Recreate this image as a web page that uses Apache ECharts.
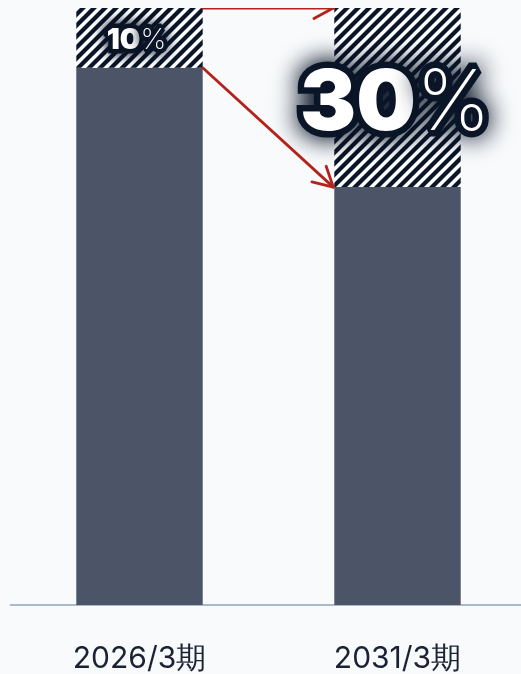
<!DOCTYPE html>
<html>
<head>
<meta charset="utf-8">
<style>
  html, body { margin: 0; padding: 0; background: #f8fafc; }
  #chart { width: 521px; height: 674px; }
</style>
<script src="https://cdn.jsdelivr.net/npm/echarts@6/dist/echarts.min.js"></script>
</head>
<body>
<div id="chart"></div>
<script>
const categories = ['2026/3期', '2031/3期']
const baseValues = [90, 70]
const shareValues = [10, 30]
const shareLabels = ['10', '30']
// arrows: [fromCategory, fromValue, toCategory, toValue]
const arrows = [
  [0, 100, 1, 100],
  [0, 90, 1, 70],
]

const BAR_RATIO = 0.49

// 斜線パターン
function makeHatch() {
  const S = 11, w = 6
  const c = document.createElement('canvas')
  c.width = S; c.height = S
  const ctx = c.getContext('2d')
  ctx.fillStyle = '#ffffff'
  ctx.fillRect(0, 0, S, S)
  ctx.fillStyle = '#0b1628'
  for (let k = -1; k <= 2; k++) {
    ctx.beginPath()
    ctx.moveTo(k * S, 0)
    ctx.lineTo(k * S + w, 0)
    ctx.lineTo(k * S + w - S, S)
    ctx.lineTo(k * S - S, S)
    ctx.closePath()
    ctx.fill()
  }
  return c
}

const glow = {
  color: '#ffffff',
  textBorderColor: '#0b1628',
  textShadowColor: '#0b1628',
  fontFamily: 'Inter',
}

function shareLabel(i) {
  const big = i === 1
  const size = big ? 84 : 29
  const bw = big ? 13 : 9
  const blur = big ? 26 : 14
  return {
    show: true,
    position: 'inside',
    offset: big ? [-2, 7] : [-3, 2],
    formatter: `{b|${shareLabels[i]}}{p|%}`,
    rich: {
      b: Object.assign({}, glow, { fontSize: size, fontWeight: 900, textBorderWidth: bw, textShadowBlur: blur }),
      p: Object.assign({}, glow, { fontSize: size, fontWeight: 200, textBorderWidth: bw, textShadowBlur: blur }),
    },
  }
}

const chart = echarts.init(document.getElementById('chart'), null, { renderer: 'canvas' })
const hatch = makeHatch()

chart.setOption({
  backgroundColor: '#f8fafc',
  animation: false,
  grid: { left: 10.5, width: 516, top: 8, bottom: 69, outerBoundsMode: 'none' },
  xAxis: {
    type: 'category', data: categories,
    axisLine: { lineStyle: { color: '#94a3b8', width: 1.5 } },
    axisTick: { show: false },
    axisLabel: { color: '#1a2233', fontSize: 30, fontFamily: 'Inter', margin: 39 },
  },
  yAxis: { type: 'value', min: 0, max: 100, show: false },
  series: [
    {
      name: 'base', type: 'bar', stack: 'a', barWidth: BAR_RATIO * 100 + '%',
      data: baseValues,
      itemStyle: { color: '#4b5567' },
    },
    {
      name: 'share', type: 'bar', stack: 'a',
      data: shareValues.map((v, i) => ({ value: v, label: shareLabel(i) })),
      itemStyle: { color: { image: hatch, repeat: 'repeat' } },
      z: 3,
    },
    {
      name: 'arrows', type: 'custom', clip: true, z: 4,
      encode: { x: [0, 2], y: [1, 3] },
      data: arrows,
      renderItem: (params, api) => {
        const a = api.coord([api.value(0), api.value(1)])
        const b = api.coord([api.value(2), api.value(3)])
        const half = api.size([1, 0])[0] * BAR_RATIO / 2
        const x1 = a[0] + half, y1 = a[1]
        const x2 = b[0] - half - 1, y2 = b[1]
        const ang = Math.atan2(y2 - y1, x2 - x1)
        const L = 22, spread = 0.5
        const w1 = [x2 - L * Math.cos(ang - spread), y2 - L * Math.sin(ang - spread)]
        const w2 = [x2 - L * Math.cos(ang + spread), y2 - L * Math.sin(ang + spread)]
        const style = { stroke: '#b3231c', lineWidth: 2.8, fill: null, lineCap: 'round', lineJoin: 'round' }
        return {
          type: 'group',
          children: [
            { type: 'line', shape: { x1, y1, x2, y2 }, style },
            { type: 'polyline', shape: { points: [w1, [x2, y2], w2] }, style },
          ],
        }
      },
    },
  ],
})
</script>
</body>
</html>
